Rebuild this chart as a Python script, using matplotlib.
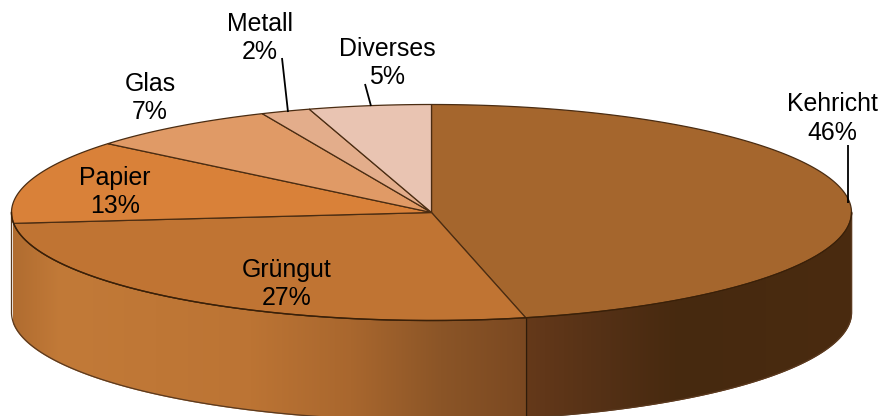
import numpy as np
import matplotlib
matplotlib.use("Agg")
import matplotlib.pyplot as plt
from matplotlib.colors import to_rgb
from matplotlib.patches import Polygon

plt.rcParams['font.family'] = ['Liberation Sans', 'DejaVu Sans']

# Data (clockwise from 12 o'clock); shares
categories = ["Kehricht", "Grüngut", "Papier", "Glas", "Metall", "Diverses"]
values = [46.4, 27.0, 12.6, 7.4, 1.9, 4.7]
percent_labels = ["46%", "27%", "13%", "7%", "2%", "5%"]

# Style
top_colors = ["#A5662D", "#C07433", "#D98139", "#E09A66", "#E3AD8B", "#E9C4B2"]
CX, CY, RX, RY, DEPTH = 431.5, 212.5, 420.0, 108.0, 100.0
label_pos = [(832.5, 118.5), (287, 284), (115, 192), (150, 98), (260, 38), (387, 63)]
leaders = {"Kehricht": ((848, 145), (848, 203)),
           "Metall": ((282, 58), (288, 112)),
           "Diverses": ((365, 84), (371, 106))}
side_stops = {
    "Kehricht": ([526, 600, 680, 851], ["#65391A", "#553116", "#46290F", "#4A2B10"]),
    "Grüngut": ([12, 60, 250, 350, 440, 526], ["#B06C30", "#C27A38", "#BC7434", "#A9672E", "#8B5527", "#7A4821"]),
}

fig = plt.figure(figsize=(8.82, 4.16), dpi=100)
ax = fig.add_axes([0, 0, 1, 1])


def pt(t, dy=0.0):
    return CX + RX * np.sin(t), CY - RY * np.cos(t) + dy


fractions = np.array(values) / sum(values)
edges = np.concatenate([[0], np.cumsum(fractions)]) * 2 * np.pi
OUT = "#4A2C12"

# Side wall: horizontal gradient image clipped to the wall shape of each slice
for i, name in enumerate(categories):
    if name not in side_stops:
        continue
    a, b = max(edges[i], np.pi / 2), min(edges[i + 1], 3 * np.pi / 2)
    ts = np.linspace(a, b, 400)
    x, y = pt(ts)
    verts = np.column_stack([np.r_[x, x[::-1]], np.r_[y, y[::-1] + DEPTH]])
    stops, cols = side_stops[name]
    rgb = np.array([to_rgb(c) for c in cols])
    lo, hi = x.min() - 6, x.max() + 6
    xs = np.linspace(lo, hi, 512)
    img = np.stack([np.interp(xs, stops, rgb[:, k]) for k in range(3)], axis=-1)[None, :, :]
    im = ax.imshow(img, extent=(lo, hi, 425, 200), aspect="auto",
                   interpolation="bilinear", zorder=1)
    clip = Polygon(verts, closed=True, transform=ax.transData, facecolor=cols[0],
                   edgecolor=cols[0], linewidth=1.0, zorder=0.5)
    ax.add_patch(clip)
    im.set_clip_path(clip)

ax.set_xlim(0, 882)
ax.set_ylim(416, 0)
ax.axis("off")

# Side outline as one closed path
tf = np.linspace(np.pi / 2, 3 * np.pi / 2, 400)
xf, yf = pt(tf)
wall = np.column_stack([np.r_[xf, xf[::-1]], np.r_[yf, yf[::-1] + DEPTH]])
ax.add_patch(Polygon(wall, closed=True, facecolor="none", edgecolor="#5A3A20",
                     linewidth=0.9, joinstyle="round", zorder=2))
x, y = pt(edges[1])
ax.plot([x, x], [y, y + DEPTH], color="#2E1B0A", lw=1.0, zorder=2.5)

# Top wedges
for i, name in enumerate(categories):
    ts = np.linspace(edges[i], edges[i + 1], 300)
    x, y = pt(ts)
    verts = np.column_stack([np.r_[CX, x], np.r_[CY, y]])
    ax.add_patch(Polygon(verts, closed=True, facecolor=top_colors[i], edgecolor=OUT,
                         linewidth=0.9, zorder=3))

# Front rim slightly stronger
ax.plot(xf, yf, color="#3A2008", lw=1.0, zorder=4)

# Leaders
for (p0, p1) in leaders.values():
    ax.plot([p0[0], p1[0]], [p0[1], p1[1]], color="black", lw=1.3, zorder=5, solid_capstyle="butt")

# Labels
for name, pct, (lx, ly) in zip(categories, percent_labels, label_pos):
    ax.text(lx, ly, f"{name}\n{pct}", ha="center", va="center", fontsize=17.9,
            linespacing=1.25, color="black", zorder=6)

fig.savefig("out.png", dpi=100)
